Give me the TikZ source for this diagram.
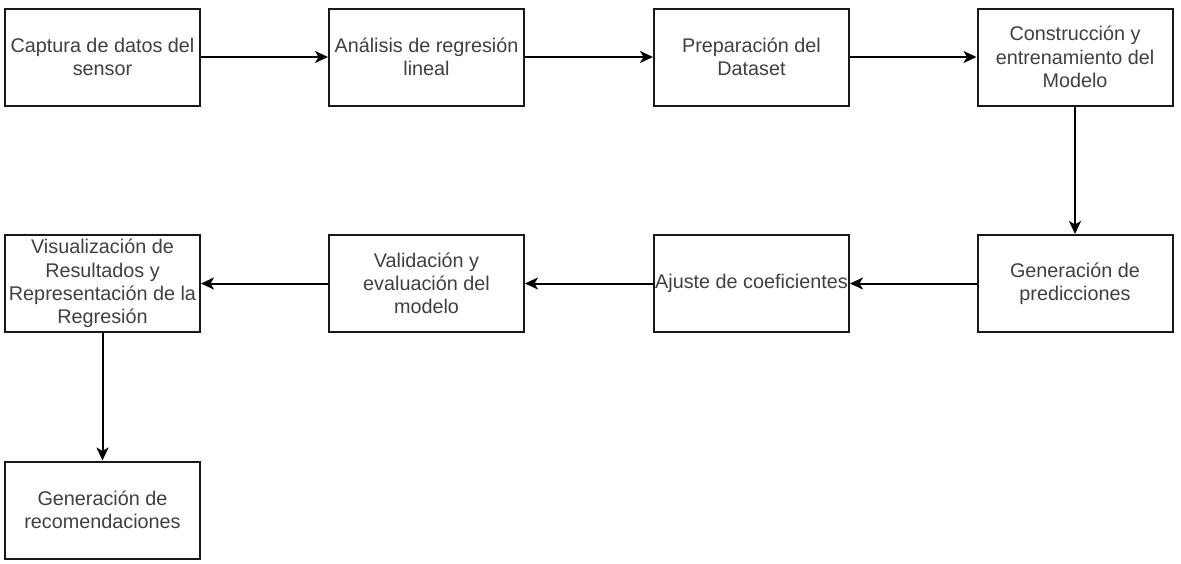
\documentclass[tikz,border=0pt]{standalone}
\usepackage{fontspec}
\setmainfont{Liberation Sans}
\usetikzlibrary{arrows.meta}
\tikzset{
  box/.style={draw=black!90, line width=2pt, fill=white, minimum width=195pt, minimum height=97pt,
    inner sep=0pt, align=center, text=black!75, font=\fontsize{19.8}{23.3}\selectfont},
  conn/.style={draw=black, line width=2pt, -{Stealth[length=13pt,width=12pt,inset=3.5pt]}}
}
\begin{document}
\begin{tikzpicture}[x=1pt,y=-1pt]
\useasboundingbox (0,0) rectangle (1181,563);
\node[box] (b1) at (102.5,57) {Captura de datos del\\sensor};
\node[box] (b2) at (426.5,57) {Análisis de regresión\\lineal};
\node[box] (b3) at (751.5,57) {Preparación del\\Dataset};
\node[box] (b4) at (1075,57) {Construcción y\\entrenamiento del\\Modelo};
\node[box] (b5) at (1075,283.5) {Generación de\\predicciones};
\node[box] (b6) at (751.5,283.5) {Ajuste de coeficientes};
\node[box] (b7) at (426.5,283.5) {Validación y\\evaluación del\\modelo};
\node[box] (b8) at (102.5,283.5) {Visualización de\\Resultados y\\Representación de la\\Regresión};
\node[box] (b9) at (102.5,510) {Generación de\\recomendaciones};
\draw[conn] (b1) -- (b2);
\draw[conn] (b2) -- (b3);
\draw[conn] (b3) -- (b4);
\draw[conn] (b4) -- (b5);
\draw[conn] (b5) -- (b6);
\draw[conn] (b6) -- (b7);
\draw[conn] (b7) -- (b8);
\draw[conn] (b8) -- (b9);
\end{tikzpicture}
\end{document}
